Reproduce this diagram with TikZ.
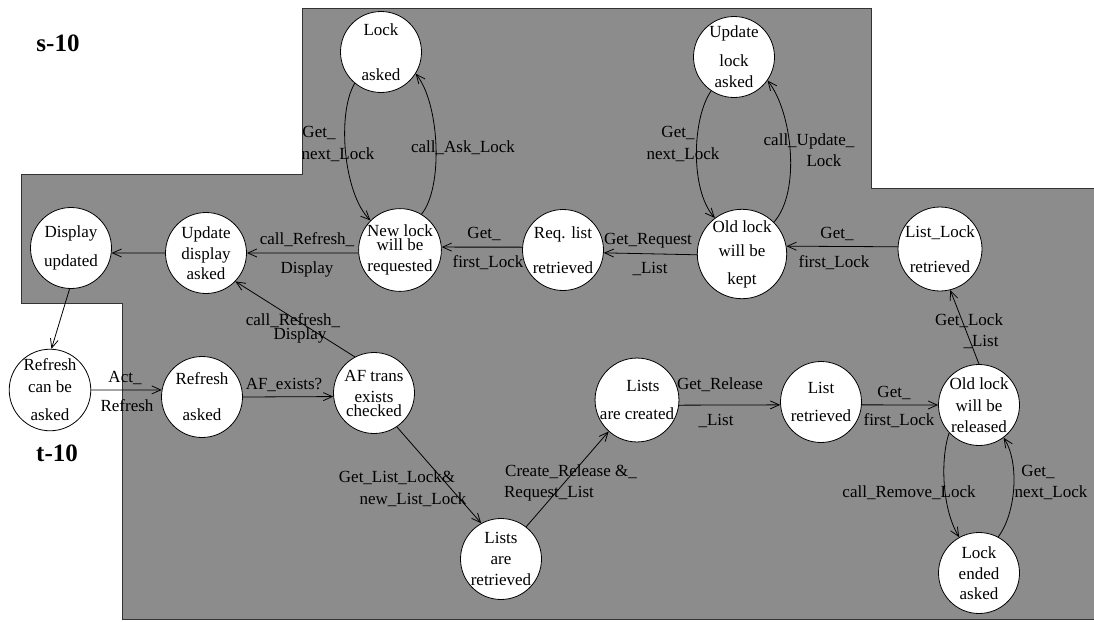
\documentclass[tikz,border=0pt]{standalone}
\usepackage{fontspec}
\setmainfont{Liberation Serif}
\usetikzlibrary{arrows.meta}
\definecolor{regiongray}{HTML}{8C8C8C}
\begin{document}
\begin{tikzpicture}[x=1pt,y=-1pt,
  state/.style={circle, draw, fill=white, line width=0.8pt, minimum size=81pt, inner sep=0pt, align=center, font=\fontsize{17}{21}\selectfont},
  lbl/.style={inner sep=0pt, font=\fontsize{17}{21}\selectfont, text height=11pt, text depth=3pt},
  ttl/.style={inner sep=0pt, font=\fontsize{25}{28}\selectfont\bfseries},
  arr/.style={line width=0.8pt, -{Straight Barb[length=9pt,width=8pt]}},
]
\useasboundingbox (0,0) rectangle (1094,621);
\clip (0,0) rectangle (1094,621);
\draw[fill=regiongray, draw=black!80, line width=1pt] (302,8) -- (871,8) -- (871,188) -- (1100,188) -- (1100,619) -- (122,619) -- (122,303) -- (21,303) -- (21,174) -- (302,174) -- cycle;

\node[ttl] (s10) at (58,43) {s-10};
\node[ttl] (t10) at (57,453) {t-10};

\node[state] (lock) at (381,52) {Lock\\[24pt]asked};
\node[state] (updlock) at (734,57) {Update\\[8pt]lock\\asked};
\node[state] (disp) at (71,248) {Display\\[8pt]updated};
\node[state] (upddisp) at (206,253) {Update\\display\\[-1pt]asked};
\node[state] (newlock) at (400,250) {New lock\\[-7pt]will be\\requested};
\node[state] (reqlist) at (563,250) {Req. list\\[14pt]retrieved};
\node[state] (oldkept) at (742,254) {Old lock\\[3pt]will be\\[7pt]kept};
\node[state] (listlock) at (940,249) {List\_Lock\\[14pt]retrieved};
\node[state] (refcan) at (50,390) {Refresh\\[1pt]can be\\[7pt]asked};
\node[state] (refasked) at (202,397) {Refresh\\[15pt]asked};
\node[state] (af) at (374,393) {AF trans\\exists\\[-7pt]checked};
\node[state] (created) at (637,400) {\hspace*{12pt}Lists\\[7pt]are created};
\node[state] (listret) at (821,402) {List\\[7pt]retrieved};
\node[state] (released) at (979,405) {Old lock\\[1pt]will be\\released};
\node[state] (listsret) at (501,559) {Lists\\are\\retrieved};
\node[state] (ended) at (979,573) {Lock\\ended\\[-1pt]asked};

% connectors
\draw[arr] (lock.230) .. controls +(-18,30) and +(-27,-27) .. (newlock.135);
\draw[arr] (newlock.59) .. controls +(22,-27) and +(24,30) .. (lock.328);
\draw[arr] (updlock.236) .. controls +(-19,27) and +(-25,-28) .. (oldkept.127);
\draw[arr] (oldkept.45) .. controls +(27,-30) and +(25,32) .. (updlock.325);
\draw[arr] (listlock.177) -- (oldkept.10);
\draw[arr] (oldkept.181) -- (reqlist.356);
\draw[arr] (reqlist.176) -- (newlock.4);
\draw[arr] (newlock.184) -- (upddisp.0);
\draw[arr] (upddisp.180) -- (disp.353);
\draw[arr] (disp.268) -- (refcan.88);
\draw[arr] (refcan.0) -- (refasked.170);
\draw[arr] (refasked.0) -- (af.185);
\draw[arr] (af.118) -- (upddisp.316);
\draw[arr] (af.304) -- (listsret.119);
\draw[arr] (listsret.52) -- (created.228);
\draw[arr] (created.353) -- (listret.184);
\draw[arr] (listret.356) -- (released.180);
\draw[arr] (released.90) -- (listlock.284);
\draw[arr] (released.223) .. controls +(-9,27) and +(-17,-28) .. (ended.119);
\draw[arr] (ended.62) .. controls +(18,-24) and +(16,25) .. (released.307);

% connector labels
\node[lbl] (a1) at (319,133) {Get\_};
\node[lbl] (a2) at (338,155) {next\_Lock};
\node[lbl] (b1) at (463,148) {call\_Ask\_Lock};
\node[lbl] (c1) at (678,133) {Get\_};
\node[lbl] (c2) at (683,155) {next\_Lock};
\node[lbl] (d1) at (809,141) {call\_Update\_};
\node[lbl] (d2) at (824,162) {Lock};
\node[lbl] (e1) at (837,234) {Get\_};
\node[lbl] (e2) at (834,263) {first\_Lock};
\node[lbl] (f1) at (648,240) {Get\_Request};
\node[lbl] (f2) at (650,269) {\_List};
\node[lbl] (g1) at (484,234) {Get\_};
\node[lbl] (g2) at (488,263) {first\_Lock};
\node[lbl] (h1) at (307,240) {call\_Refresh\_};
\node[lbl] (h2) at (307,269) {Display};
\node[lbl] (i1) at (125,378) {Act\_};
\node[lbl] (i2) at (127,407) {Refresh};
\node[lbl] (j1) at (284,385) {AF\_exists?};
\node[lbl] (k1) at (293,321) {call\_Refresh\_};
\node[lbl] (k2) at (300,335) {Display};
\node[lbl] (m1) at (397,478) {Get\_List\_Lock\&};
\node[lbl] (m2) at (413,500) {new\_List\_Lock};
\node[lbl] (n1) at (571,472) {Create\_Release \&\_};
\node[lbl] (n2) at (549,493) {Request\_List};
\node[lbl] (o1) at (720,385) {Get\_Release};
\node[lbl] (o2) at (716,421) {\_List};
\node[lbl] (p1) at (894,393) {Get\_};
\node[lbl] (p2) at (899,421) {first\_Lock};
\node[lbl] (q1) at (969,321) {Get\_Lock};
\node[lbl] (q2) at (981,342) {\_List};
\node[lbl] (r1) at (909,493) {call\_Remove\_Lock};
\node[lbl] (s1) at (1038,472) {Get\_};
\node[lbl] (s2) at (1051,493) {next\_Lock};
\end{tikzpicture}
\end{document}
